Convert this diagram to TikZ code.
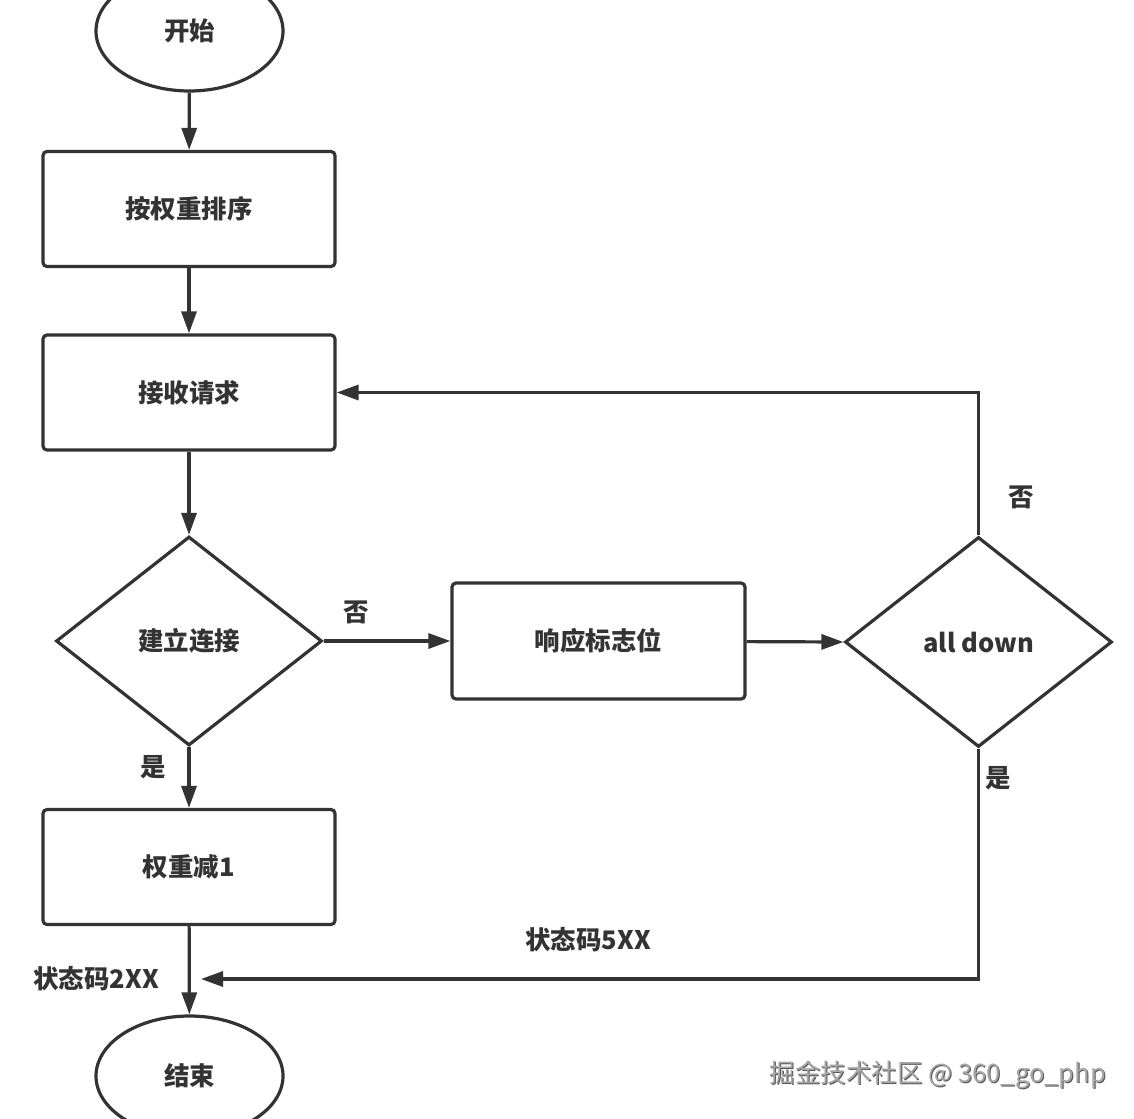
\documentclass[tikz,border=0pt]{standalone}
\usepackage{fontspec}
\setmainfont{Noto Sans CJK SC}
\usetikzlibrary{shapes.geometric,arrows.meta}
\definecolor{ink}{HTML}{333333}
\definecolor{wmark}{HTML}{A8A8A8}
\definecolor{wshadow}{HTML}{555555}
\tikzset{
  base/.style={draw=ink, line width=3.2pt, text=ink, font=\fontsize{25.5}{29}\selectfont\bfseries, inner sep=0pt},
  procbox/.style={base, rectangle, rounded corners=4pt, minimum width=292pt, minimum height=115pt},
  terminal/.style={base, ellipse, minimum width=187pt, minimum height=120pt},
  decision/.style={base, diamond, minimum width=266pt, minimum height=209pt},
  lbl/.style={text=ink, font=\fontsize{25.5}{29}\selectfont\bfseries, inner sep=0pt},
  conn/.style={draw=ink, line width=3.2pt, -{Triangle[length=22pt,width=15pt]}},
}
\begin{document}
\begin{tikzpicture}[x=1pt,y=-1pt]
\useasboundingbox (0,0) rectangle (1134,1118);
\node[terminal] (start) at (189.5,31) {开始};
\node[procbox] (sort) at (189,209) {按权重排序};
\node[procbox] (recv) at (189,392.5) {接收请求};
\node[decision] (conn) at (189,641) {建立连接};
\node[procbox] (dec) at (189,867) {权重减1};
\node[terminal] (stop) at (189.5,1076) {结束};
\node[procbox, minimum width=293pt, minimum height=116pt] (flag) at (598.5,641) {响应标志位};
\node[decision, minimum width=267pt, minimum height=210pt] (all) at (978.5,642) {all down};
\coordinate (back) at (201,979);

\draw[conn] (start) -- (sort);
\draw[conn] (sort) -- (recv);
\draw[conn] (recv) -- (conn.north);
\draw[conn] (conn.south) -- (dec);
\draw[conn] (dec) -- (stop);
\draw[conn] (conn.east) -- (flag);
\draw[conn] (flag) -- (all.west);
\draw[conn] (all.north) |- (recv.east);
\draw[conn] (all.south) |- (back);

\node[lbl] (l1) at (153,767) {是};
\node[lbl] (l2) at (356,612) {否};
\node[lbl] (l3) at (1021,497) {否};
\node[lbl] (l4) at (998,778) {是};
\node[lbl] (l5) at (588,940) {状态码5XX};
\node[lbl] (l6) at (96,979) {状态码2XX};

\node[text=wshadow, font=\fontsize{25.5}{29}\selectfont, inner sep=0pt] (wm0) at (939,1076) {掘金技术社区 @ 360\_go\_php};
\node[text=wmark, font=\fontsize{25.5}{29}\selectfont, inner sep=0pt] (wm) at (938,1075) {掘金技术社区 @ 360\_go\_php};
\end{tikzpicture}
\end{document}
